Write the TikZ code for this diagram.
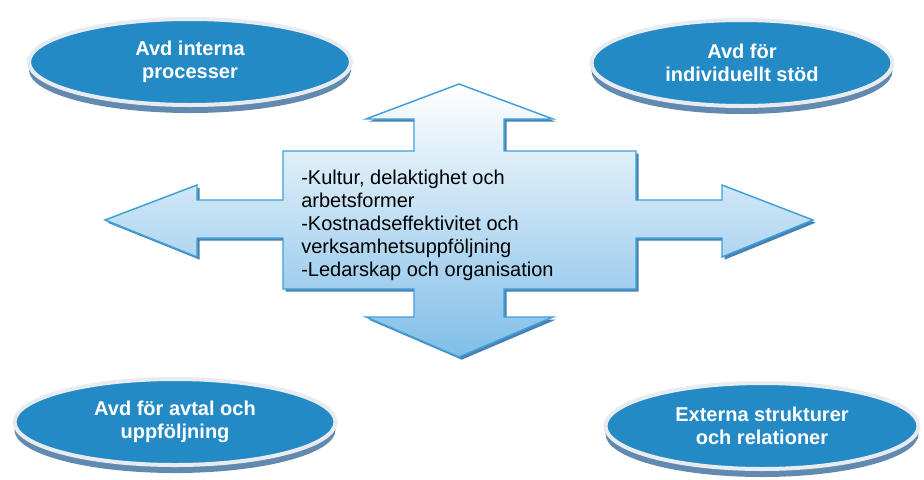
\documentclass[tikz,border=0pt]{standalone}
\usepackage{fontspec}
\setmainfont{Liberation Sans}
\usepackage{xcolor}
\usepackage{tikz}
\usetikzlibrary{shapes,shadows}
\definecolor{avdblue}{RGB}{36,138,198}
\definecolor{avdrim}{RGB}{232,236,240}
\definecolor{avdshadow}{RGB}{98,138,176}
\definecolor{korsline}{RGB}{62,160,214}
\definecolor{korsfill}{RGB}{128,190,232}
\definecolor{korsshadow}{RGB}{70,130,180}

\begin{document}
\begin{tikzpicture}[x=0.75pt, y=-0.75pt,
      avd/.style={ellipse, fill=avdblue, draw=avdrim, line width=3pt,
                  minimum height=64.5pt, align=center, text=white,
                  font=\fontsize{15}{17.25}\selectfont\bfseries,
                  drop shadow={shadow xshift=0pt, shadow yshift=-6pt,
                  opacity=1, fill=avdshadow}},
      kors/.style={draw=korsline, line width=1.1pt, top color=white,
                  bottom color=korsfill,
                  drop shadow={shadow xshift=2pt, shadow yshift=-2pt,
                  opacity=1, fill=korsshadow}}]
                  \useasboundingbox (0,0) rectangle (924,479);
                  \path[kors] (459,84) -- (553,119) -- (504,119) -- (504,151)
                  -- (636,151) -- (636,200) -- (722,200) -- (722,185)
                  -- (813,220) -- (722,257) -- (722,238) -- (636,238)
                  -- (636,289) -- (504,289) -- (504,317) -- (553,317)
                  -- (459,357) -- (366,317) -- (414,317) -- (414,289)
                  -- (283,289) -- (283,238) -- (197,238) -- (197,257)
                  -- (105,220) -- (197,185) -- (197,200) -- (283,200)
                  -- (283,151) -- (414,151) -- (414,119) -- (366,119)
                  -- cycle;
                  \node[anchor=north west, inner sep=0pt, align=left,
                  font=\fontsize{15}{17.25}\selectfont] (fokus) at (301,170)
                  {-Kultur, delaktighet och\\arbetsformer\\
                  -Kostnadseffektivitet och\\verksamhetsuppföljning\\
                  -Ledarskap och organisation};
                  \node[avd, minimum width=241.5pt] (interna) at (190,62)
                  {Avd interna\\processer};
                  \node[avd, minimum width=225.75pt] (individ) at (742,63)
                  {Avd för\\individuellt stöd};
                  \node[avd, minimum width=240.75pt] (avtal) at (175,422)
                  {Avd för avtal och\\uppföljning};
                  \node[avd, minimum width=234.75pt] (externa) at (762,426)
                  {Externa strukturer\\och relationer};
\end{tikzpicture}
\end{document}
